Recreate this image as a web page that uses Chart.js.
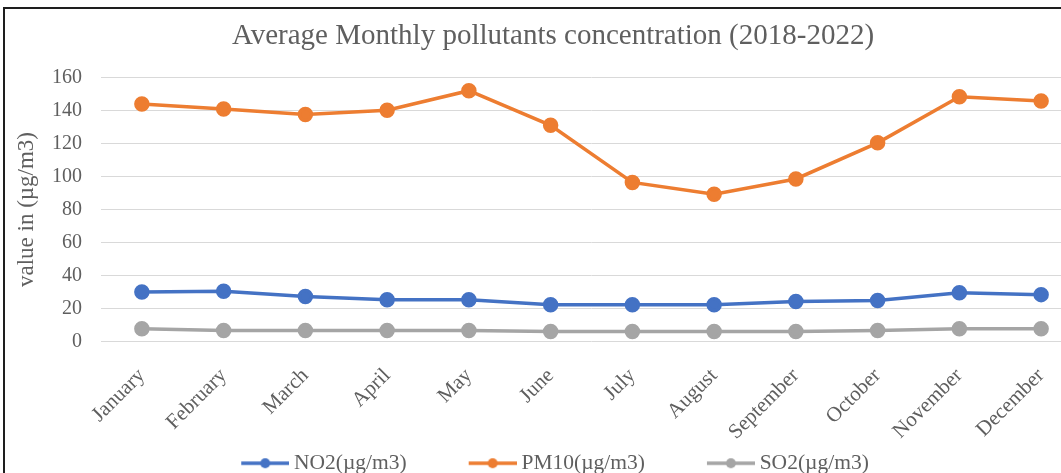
<!DOCTYPE html>
<html>
<head>
<meta charset="utf-8">
<script src="https://cdn.jsdelivr.net/npm/chart.js@4.4.1/dist/chart.umd.min.js"></script>
<style>
  html, body { margin: 0; padding: 0; background: #fff; overflow: hidden; width: 1061px; height: 473px; }
  #frame { position: absolute; left: 3px; top: 7px; width: 1200px; height: 600px; border: 2px solid #1e1e1e; background: #fff; }
  #wrap { position: absolute; left: 0; top: 0; }
</style>
</head>
<body>
<div id="frame"></div>
<div id="wrap"><canvas id="chart" width="1100" height="484"></canvas></div>
<script>
// Monthly averages, 2018-2022
const months = ['January', 'February', 'March', 'April', 'May', 'June', 'July', 'August', 'September', 'October', 'November', 'December'];
const no2 = [30.0, 30.5, 27.3, 25.3, 25.3, 22.3, 22.3, 22.3, 24.3, 24.9, 29.6, 28.4];
const pm10 = [143.9, 140.9, 137.6, 140.2, 152.0, 131.0, 96.4, 89.3, 98.5, 120.4, 148.3, 145.7];
const so2 = [7.7, 6.7, 6.7, 6.7, 6.7, 6.0, 6.0, 6.0, 6.0, 6.7, 7.7, 7.7];
const yTicks = [0, 20, 40, 60, 80, 100, 120, 140, 160];

const FONT = "'Liberation Serif', 'Times New Roman', serif";
const TEXT = '#5f5f5f';

// Legend marker: a short line with a dot, drawn at the right end of a slightly
// wider transparent strip so the strip adds a little spacing before each entry
const MARK_BOX = 46;
function legendMarker(color) {
  const c = document.createElement('canvas');
  c.width = MARK_BOX + 12; c.height = 14;
  const g = c.getContext('2d');
  const x0 = c.width - 48;
  g.strokeStyle = color; g.lineWidth = 3.5;
  g.beginPath(); g.moveTo(x0, 7); g.lineTo(x0 + 48, 7); g.stroke();
  g.fillStyle = color;
  g.beginPath(); g.arc(x0 + 24, 7, 5, 0, Math.PI * 2); g.fill();
  return c;
}

function series(label, data, color) {
  return {
    label, data,
    borderColor: color, backgroundColor: color,
    borderWidth: 3.5, pointRadius: 6, pointHoverRadius: 6,
    pointBackgroundColor: color, pointBorderColor: color,
    pointStyle: 'circle', tension: 0,
    legendMarker: legendMarker(color)
  };
}

new Chart(document.getElementById('chart'), {
  type: 'line',
  data: {
    labels: months,
    datasets: [
      series('NO2(µg/m3)', no2, '#4472C4'),
      series('PM10(µg/m3)', pm10, '#ED7D31'),
      series('SO2(µg/m3)', so2, '#A5A5A5')
    ]
  },
  options: {
    responsive: false,
    animation: false,
    layout: { padding: { left: 24, right: 18, top: 0, bottom: 0 } },
    plugins: {
      tooltip: { enabled: false },
      title: {
        display: true,
        text: 'Average Monthly pollutants concentration (2018-2022)',
        color: TEXT,
        font: { family: FONT, size: 29, weight: 'normal', lineHeight: 1.2 },
        padding: { top: 19, bottom: 23.7 }
      },
      legend: {
        position: 'bottom',
        labels: {
          usePointStyle: true,
          pointStyleWidth: MARK_BOX,
          padding: 58,
          color: TEXT,
          font: { family: FONT, size: 21.5 },
          generateLabels(chart) {
            return chart.data.datasets.map((ds, i) => ({
              text: ds.label,
              pointStyle: ds.legendMarker,
              fillStyle: ds.borderColor,
              strokeStyle: ds.borderColor,
              fontColor: TEXT,
              lineWidth: 0,
              hidden: false,
              datasetIndex: i
            }));
          }
        }
      }
    },
    scales: {
      x: {
        offset: true,
        grid: { display: false },
        border: { display: false },
        ticks: {
          autoSkip: false, minRotation: 45, maxRotation: 45,
          color: TEXT, padding: 14,
          font: { family: FONT, size: 21 }
        },
        afterFit(scale) {
          // keep the axis band short so the legend sits close; month names may run below it
          scale.height = 53;
          scale._computeLabelArea = () => undefined;
        }
      },
      y: {
        min: 0, max: 160,
        afterBuildTicks(scale) { scale.ticks = yTicks.map(v => ({ value: v })); },
        grid: { color: '#d9d9d9', lineWidth: 1, drawTicks: false },
        border: { display: false },
        ticks: { color: TEXT, padding: 19, font: { family: FONT, size: 20 } },
        title: {
          display: true, text: 'value in (µg/m3)', color: TEXT,
          font: { family: FONT, size: 23, lineHeight: 1.2 },
          padding: { top: -11, bottom: 0 }
        },
        afterFit(scale) { scale.width = 77; }
      }
    }
  }
});
</script>
</body>
</html>
